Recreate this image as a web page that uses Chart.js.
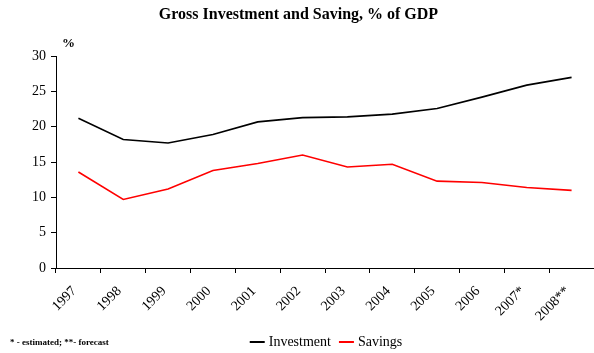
<!DOCTYPE html>
<html>
<head>
<meta charset="utf-8">
<script src="https://cdn.jsdelivr.net/npm/chart.js@4/dist/chart.umd.min.js"></script>
<style>
  html, body { margin: 0; padding: 0; background: #fff; }
  #wrap { width: 594px; height: 353px; }
</style>
</head>
<body>
<div id="wrap"><canvas id="chartGdp" width="594" height="353"></canvas></div>
<script>
const years = ['1997', '1998', '1999', '2000', '2001', '2002', '2003', '2004', '2005', '2006', '2007*', '2008**'];
const investment = [21.2, 18.2, 17.7, 18.9, 20.7, 21.3, 21.4, 21.8, 22.6, 24.2, 25.9, 27.0];
const savings = [13.6, 9.7, 11.2, 13.8, 14.8, 16.0, 14.3, 14.7, 12.3, 12.1, 11.4, 11.0];
const yTicks = [0, 5, 10, 15, 20, 25, 30];

const serif = 'Liberation Serif';

// percent sign above the y axis, footnote and legend row at the bottom
const extras = {
  id: 'extras',
  afterDraw(chart) {
    const c = chart.ctx;
    const area = chart.chartArea;
    c.save();
    c.fillStyle = '#000';
    c.textBaseline = 'middle';

    c.font = 'bold 13px "' + serif + '"';
    c.textAlign = 'left';
    c.fillText('%', area.left + 6, area.top - 13);

    c.font = 'bold 9px "' + serif + '"';
    c.fillText('* - estimated; **- forecast', 10, 343);

    // legend
    c.font = '14px "' + serif + '"';
    const items = chart.data.datasets.map(ds => ({
      label: ds.label, color: ds.borderColor, w: c.measureText(ds.label).width
    }));
    const sample = 15, gap = 4, between = 8;
    let total = 0;
    items.forEach((it, i) => { total += sample + gap + it.w + (i ? between : 0); });
    let x = 326 - total / 2;
    const y = 342;
    items.forEach(it => {
      c.strokeStyle = it.color;
      c.lineWidth = 2;
      c.beginPath();
      c.moveTo(x, y);
      c.lineTo(x + sample, y);
      c.stroke();
      x += sample + gap;
      c.fillText(it.label, x, y);
      x += it.w + between;
    });
    c.restore();
  }
};

const ctx = document.getElementById('chartGdp');
const lineChart = new Chart(ctx, {
  type: 'line',
  data: {
    labels: years,
    datasets: [{
      label: 'Investment',
      data: investment,
      borderColor: '#000000',
      backgroundColor: '#000000',
      borderWidth: 1.6,
      pointRadius: 0,
      tension: 0
    }, {
      label: 'Savings',
      data: savings,
      borderColor: '#ff0000',
      backgroundColor: '#ff0000',
      borderWidth: 1.6,
      pointRadius: 0,
      tension: 0
    }]
  },
  options: {
    responsive: false,
    devicePixelRatio: 1,
    animation: false,
    // plot runs a few pixels past the right edge of the canvas
    layout: { padding: { left: 0, right: -3, top: 0, bottom: 0 } },
    plugins: {
      legend: { display: false },
      tooltip: { enabled: false },
      title: {
        display: true,
        text: 'Gross Investment and Saving, % of GDP',
        color: '#000',
        font: { family: serif, size: 16, weight: 'bold' },
        padding: { top: 5, bottom: 32 }
      }
    },
    scales: {
      x: {
        offset: true,
        grid: {
          offset: true,
          drawOnChartArea: false,
          drawTicks: true,
          tickLength: 5,
          color: '#000'
        },
        border: { display: true, color: '#000', width: 1 },
        ticks: {
          color: '#000',
          font: { family: serif, size: 14 },
          minRotation: 45,
          maxRotation: 45,
          autoSkip: false,
          labelOffset: -4,
          padding: 10
        },
        afterFit(scale) { scale.height = 85; }
      },
      y: {
        min: 0,
        max: 30,
        afterBuildTicks(scale) { scale.ticks = yTicks.map(v => ({ value: v })); },
        grid: {
          drawOnChartArea: false,
          drawTicks: true,
          tickLength: 5,
          color: '#000'
        },
        border: { display: true, color: '#000', width: 1 },
        ticks: {
          color: '#000',
          font: { family: serif, size: 14 },
          padding: 5
        },
        afterFit(scale) { scale.width = 56; }
      }
    }
  },
  plugins: [extras]
});
</script>
</body>
</html>
